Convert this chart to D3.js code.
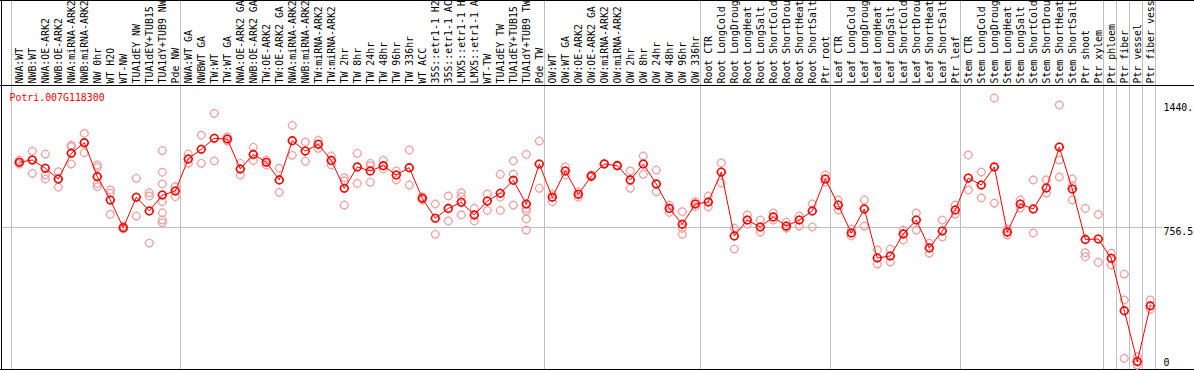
<!DOCTYPE html>
<html>
<head>
<meta charset="utf-8">
<script src="https://cdn.jsdelivr.net/npm/d3@7"></script>
<style>
  body { margin: 0; background: #fff; }
  svg { display: block; font-family: "DejaVu Sans Mono", monospace; font-size: 9.9px; }
</style>
</head>
<body>
<div id="chart"></div>
<script>
const geneName = "Potri.007G118300";

const categories = [
    "NWA:WT", "NWB:WT", "NWA:OE-ARK2", "NWB:OE-ARK2", "NWA:miRNA-ARK2", "NWB:miRNA-ARK2",
    "NW 0hr", "WT H2O", "WT-NW", "TUA1dEY NW", "TUA1dEY+TUB15 NW", "TUA1dY+TUB9 NW", "Pde NW",
    "NWA:WT GA", "NWBWT GA", "TW:WT", "TW:WT GA", "NWA:OE-ARK2 GA", "NWB:OE-ARK2 GA",
    "TW:OE-ARK2", "TW:OE-ARK2 GA", "NWA:miRNA-ARK2", "NWB:miRNA-ARK2", "TW:miRNA-ARK2", "TW:miRNA-ARK2",
    "TW 2hr", "TW 8hr", "TW 24hr", "TW 48hr", "TW 96hr", "TW 336hr", "WT ACC",
    "35S::etr1-1 H2O", "35S::etr1-1 ACC", "LMX5::etr1-1 H2O", "LMX5::etr1-1 ACC",
    "WT-TW", "TUA1dEY TW", "TUA1dEY+TUB15 TW", "TUA1dY+TUB9 TW", "Pde TW",
    "OW:WT", "OW:WT GA", "OW:OE-ARK2", "OW:OE-ARK2 GA", "OW:miRNA-ARK2", "OW:miRNA-ARK2",
    "OW 2hr", "OW 8hr", "OW 24hr", "OW 48hr", "OW 96hr", "OW 336hr",
    "Root CTR", "Root LongCold", "Root LongDrought", "Root LongHeat", "Root LongSalt",
    "Root ShortCold", "Root ShortDrought", "Root ShortHeat", "Root ShortSalt", "Ptr root",
    "Leaf CTR", "Leaf LongCold", "Leaf LongDrought", "Leaf LongHeat", "Leaf LongSalt",
    "Leaf ShortCold", "Leaf ShortDrought", "Leaf ShortHeat", "Leaf ShortSalt", "Ptr leaf",
    "Stem CTR", "Stem LongCold", "Stem LongDrought", "Stem LongHeat", "Stem LongSalt",
    "Stem ShortCold", "Stem ShortDrought", "Stem ShortHeat", "Stem ShortSalt", "Ptr shoot", "Ptr xylem",
    "Ptr phloem", "Ptr fiber", "Ptr vessel", "Ptr fiber vessel"
];

// the header only has room for 14 characters
const labelLength = 14;

// index of first sample in each group (a grey separator is drawn before it)
const groupStarts = [0, 13, 41, 53, 63, 73, 84, 85, 86, 87, 88];

// mean expression per sample
const meanValues = [
    1117, 1129, 1084, 1025, 1166, 1224, 1038, 910, 758, 925, 850, 937, 959,
    1135, 1188, 1248, 1244, 1080, 1160, 1117, 1020, 1235, 1178, 1215, 1127,
    974, 1091, 1069, 1098, 1047, 1087, 919, 810, 864, 897, 828, 904, 947, 1018, 888, 1107,
    925, 1069, 941, 1041, 1107, 1098, 1020, 1107, 998, 864, 777, 888,
    899, 1063, 713, 800, 762, 817, 767, 800, 850, 1025,
    882, 729, 861, 592, 603, 724, 800, 647, 740, 855,
    1030, 992, 1091, 734, 888, 861, 976, 1200, 970, 694, 696,
    590, 303, 24, 330
];

// individual replicates per sample
const replicateValues = [
    [1129, 1118, 1107], [1178, 1056, 1129], [1162, 1047, 1025], [1065, 980, 1025],
    [1211, 1202, 1107], [1275, 1169, 1222], [1102, 1089, 1001, 983], [965, 947, 831],
    [767, 751], [1029, 822], [950, 932, 674], [1181, 1062, 998, 901, 840, 800, 785], [983, 928],
    [1162, 1111], [1265, 1111], [1385, 1124], [1257, 1233], [1111, 1047], [1199, 1127],
    [1129, 1102], [1084, 952], [1319, 1155], [1228, 1122], [1237, 1193], [1151, 1102],
    [1032, 1014, 882], [1166, 1001], [1111, 1098, 1007], [1127, 1080], [1069, 1020], [1184, 992],
    [928, 910], [888, 722], [932, 795], [950, 928, 828], [864, 795], [943, 853],
    [1051, 925, 853], [1124, 1052, 882], [1160, 864, 850, 806, 745], [1233, 974],
    [941, 901], [1092, 1047], [955, 925], [1047, 1036], [1111], [1102],
    [1069, 974], [1151, 1051], [1074, 955], [882, 842], [846, 755, 722], [901, 873],
    [932, 872], [1113, 1003], [756, 641], [828, 778], [800, 734], [839, 800], [789, 756],
    [822, 767], [888, 762], [1047, 1009],
    [910, 855], [751, 713], [910, 767], [636, 559], [641, 570], [745, 691], [839, 745],
    [674, 619], [800, 707], [882, 833],
    [1157, 965], [1063, 921], [1469, 893], [751, 718], [910, 866], [1020, 729], [1020, 948],
    [1431, 1129, 1036], [1025, 987, 910], [864, 621, 599], [831, 568],
    [618, 554], [504, 362, 42], [51, 5], [362, 311]
];

const axisTicks = [1440, 756.5, 0];
const axisTickLabels = ["1440.", "756.5", "0"];

const width = 1194;
const height = 370;
const headerBottom = 85;

const svg = d3.select("#chart")
    .append("svg")
    .attr("width", width)
    .attr("height", height);

svg.append("rect")
    .attr("width", width)
    .attr("height", height)
    .attr("fill", "#fff");

// one 13px slot per sample
const x = d3.scaleBand()
    .domain(d3.range(categories.length))
    .range([11.3, 1155.3]);

const y = d3.scaleLinear()
    .domain([0, 1440])
    .range([366, 103.3]);

const cx = i => x(i) + 8;

// grey separators between sample groups
const sepX = d => Math.floor(d < categories.length ? x(d) : x(d - 1) + x.bandwidth()) + 0.5;

svg.append("g")
    .selectAll("line")
    .data(groupStarts)
    .join("line")
    .attr("x1", sepX)
    .attr("x2", sepX)
    .attr("y1", 0)
    .attr("y2", height)
    .style("stroke", "#c0c0c0")
    .style("stroke-width", 1);

// horizontal grid line at the mid tick
svg.append("line")
    .attr("x1", 1)
    .attr("x2", 1162)
    .attr("y1", Math.floor(y(axisTicks[1])) + 0.5)
    .attr("y2", Math.floor(y(axisTicks[1])) + 0.5)
    .style("stroke", "#c0c0c0");

// frame
svg.append("path")
    .attr("d", `M0,0.5H${width}M1.5,0V${height}M0,${headerBottom + 0.5}H${width}M0,${height - 0.5}H${width}`)
    .style("stroke", "#000")
    .style("fill", "none");

// sample labels, rotated, reading upward
svg.append("g")
    .selectAll("text")
    .data(categories)
    .join("text")
    .attr("transform", (d, i) => `translate(${x(i) + 11.5},${headerBottom - 1.5}) rotate(-90)`)
    .attr("fill", "#000")
    .text(d => d.slice(0, labelLength));

// gene name
svg.append("text")
    .attr("x", 9.5)
    .attr("y", 101)
    .attr("fill", "#ff0000")
    .text(geneName);

// right-hand value labels
svg.append("g")
    .selectAll("text")
    .data(axisTicks)
    .join("text")
    .attr("x", 1163.5)
    .attr("y", (d, i) => i < 2 ? y(d) + 7.4 : y(d))
    .attr("fill", "#000")
    .text((d, i) => axisTickLabels[i]);

// ring with four small spikes
function marker(r, t) {
    return `M${r},0A${r},${r} 0 1,1 ${-r},0A${r},${r} 0 1,1 ${r},0` +
        `M${r},0h${t}M${-r},0h${-t}M0,${r}v${t}M0,${-r}v${-t}`;
}

// replicates
const reps = [];
replicateValues.forEach((vals, i) => vals.forEach(v => reps.push({ i, v })));

svg.append("g")
    .selectAll("path")
    .data(reps)
    .join("path")
    .attr("transform", d => `translate(${cx(d.i)},${y(d.v)})`)
    .attr("d", marker(3.8, 1))
    .style("fill", "none")
    .style("stroke", "#f0a0a0")
    .style("stroke-width", 1.2);

// mean line
const line = d3.line()
    .x((d, i) => cx(i))
    .y(d => y(d));

svg.append("path")
    .datum(meanValues)
    .attr("d", line)
    .style("fill", "none")
    .style("stroke", "#ff0000")
    .style("stroke-width", 1);

svg.append("g")
    .selectAll("path")
    .data(meanValues)
    .join("path")
    .attr("transform", (d, i) => `translate(${cx(i)},${y(d)})`)
    .attr("d", marker(3.8, 1))
    .style("fill", "none")
    .style("stroke", "#ff0000")
    .style("stroke-width", 1.6);
</script>
</body>
</html>
